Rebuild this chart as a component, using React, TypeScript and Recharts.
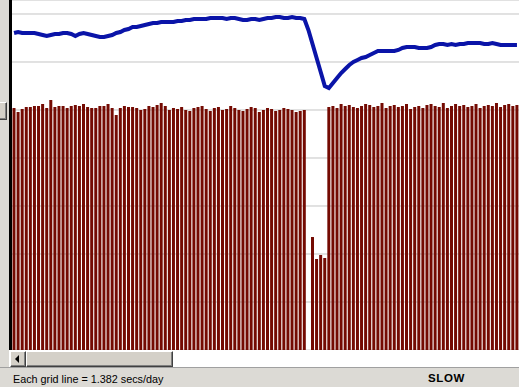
import React from "react";
import { ComposedChart, Bar, Line, XAxis, YAxis, CartesianGrid } from "recharts";

// rate per day (secs/day) for each bar
const dailyRate = [
  6.968, 6.852, 6.939, 6.996, 6.996, 7.025, 7.025, 7.083, 6.968, 7.198,
  6.996, 7.025, 7.025, 6.968, 7.025, 7.054, 7.025, 7.083, 6.996, 6.968,
  6.968, 7.025, 7.025, 7.083, 6.968, 6.766, 6.968, 7.025, 6.996, 6.996,
  6.968, 6.91, 6.939, 7.025, 6.996, 7.054, 7.112, 7.025, 6.91, 6.968,
  6.939, 6.996, 6.91, 6.881, 6.968, 6.996, 7.025, 6.939, 6.881, 6.968,
  6.996, 6.91, 6.939, 7.025, 6.968, 6.91, 6.881, 6.939, 6.996, 6.968,
  6.852, 6.91, 6.968, 6.939, 6.881, 6.91, 6.968, 6.939, 6.91, 6.852,
  6.881, 6.91, 0, 3.253, 2.62, 2.735, 2.649, 6.996, 7.025, 6.968,
  7.083, 7.025, 7.054, 6.996, 6.968, 7.025, 7.083, 7.054, 6.996, 7.025,
  7.112, 6.968, 7.025, 7.054, 6.996, 7.025, 7.083, 6.939, 6.996, 7.025,
  6.968, 7.054, 7.083, 7.025, 6.996, 7.112, 6.968, 7.025, 7.083, 7.025,
  7.054, 6.996, 7.025, 7.083, 6.968, 7.025, 7.054, 7.025, 7.112, 6.996,
  7.054, 7.083, 7.025, 7.054,
];

// running average (secs/day), the blue trace
const avgRate = [
  9.127, 9.156, 9.127, 9.127, 9.127, 9.127, 9.098, 9.069, 9.041, 9.069,
  9.098, 9.098, 9.127, 9.127, 9.098, 9.041, 9.098, 9.127, 9.098, 9.069,
  9.041, 9.012, 9.012, 9.041, 9.069, 9.127, 9.156, 9.213, 9.242, 9.3,
  9.3, 9.328, 9.357, 9.386, 9.415, 9.415, 9.444, 9.444, 9.444, 9.444,
  9.473, 9.473, 9.501, 9.501, 9.53, 9.53, 9.53, 9.53, 9.559, 9.559,
  9.559, 9.559, 9.53, 9.559, 9.559, 9.53, 9.501, 9.501, 9.53, 9.53,
  9.501, 9.53, 9.559, 9.559, 9.588, 9.588, 9.559, 9.559, 9.588, 9.559,
  9.559, 9.53, 9.213, 8.81, 8.407, 8.004, 7.601, 7.543, 7.687, 7.831,
  7.975, 8.09, 8.206, 8.292, 8.35, 8.407, 8.436, 8.494, 8.551, 8.609,
  8.609, 8.609, 8.609, 8.609, 8.638, 8.695, 8.724, 8.724, 8.724, 8.695,
  8.695, 8.695, 8.724, 8.781, 8.81, 8.81, 8.781, 8.81, 8.781, 8.81,
  8.81, 8.839, 8.839, 8.839, 8.839, 8.81, 8.81, 8.839, 8.81, 8.781,
  8.781, 8.781, 8.781, 8.781,
];

const days = dailyRate.map((_, i) => i + 1);

// one grid line every 1.382 secs/day
const gridTicks = [1.382, 2.764, 4.146, 5.528, 6.91, 8.292, 9.674];
const rateDomain = [0, 10.077];

const data = days.map((day, i) => ({
  day,
  rate: dailyRate[i],
  avg: avgRate[i],
}));

const grey = "#dcdad5";

const raised: React.CSSProperties = {
  position: "absolute",
  boxSizing: "border-box",
  background: "#d4d0c8",
  borderTop: "1px solid #ffffff",
  borderLeft: "1px solid #ffffff",
  borderRight: "1px solid #404040",
  borderBottom: "1px solid #404040",
  boxShadow: "inset -1px -1px 0 #808080",
};

export default function App() {
  return (
    <div
      style={{
        position: "fixed",
        left: 0,
        top: 0,
        width: 519,
        height: 387,
        background: grey,
        overflow: "hidden",
        fontFamily: "'Liberation Sans', Arial, sans-serif",
      }}
    >
      {/* splitter stub at the left edge */}
      <div style={{ ...raised, left: -2, top: 102, width: 9, height: 18 }} />
      <div style={{ position: "absolute", left: 9, top: 0, width: 3, height: 350, background: "#000" }} />

      <div style={{ position: "absolute", left: 12, top: 0, width: 507, height: 350, background: "#fff" }}>
        <ComposedChart
          width={507}
          height={350}
          data={data}
          margin={{ top: 0, right: 0, bottom: 0, left: 0 }}
          barCategoryGap={0.5}
        >
          <CartesianGrid vertical={false} stroke="#c4c4c4" />
          <XAxis dataKey="day" hide />
          <YAxis hide domain={rateDomain} ticks={gridTicks} />
          <Bar dataKey="rate" fill="#740a02" isAnimationActive={false} />
          <Line
            dataKey="avg"
            type="linear"
            stroke="#0a14a8"
            strokeWidth={4}
            dot={false}
            isAnimationActive={false}
          />
        </ComposedChart>
      </div>

      {/* horizontal scrollbar */}
      <div style={{ position: "absolute", left: 9, top: 350, width: 510, height: 17, background: "#fff" }} />
      <div style={{ ...raised, left: 10, top: 351, width: 16, height: 16 }}>
        <div
          style={{
            position: "absolute",
            left: 4,
            top: 3,
            width: 0,
            height: 0,
            borderTop: "4px solid transparent",
            borderBottom: "4px solid transparent",
            borderRight: "4px solid #000",
          }}
        />
      </div>
      <div style={{ ...raised, left: 26, top: 351, width: 147, height: 16 }} />

      {/* status bar */}
      <div style={{ position: "absolute", left: 0, top: 367, width: 519, height: 1, background: "#a0a0a0" }} />
      <div style={{ position: "absolute", left: 13, top: 373, fontSize: 10.8, color: "#000", whiteSpace: "nowrap" }}>
        Each grid line = 1.382 secs/day
      </div>
      <div
        style={{
          position: "absolute",
          left: 428,
          top: 372,
          fontSize: 11.5,
          fontWeight: "bold",
          letterSpacing: 0.6,
          color: "#000",
        }}
      >
        SLOW
      </div>
    </div>
  );
}
